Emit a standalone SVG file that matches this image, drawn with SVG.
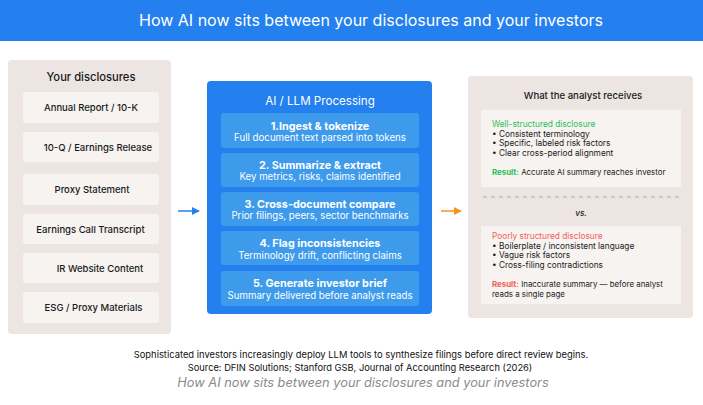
<svg xmlns="http://www.w3.org/2000/svg" width="703" height="405" viewBox="0 0 703 405">
<defs>
<style>
text{font-family:Inter,"Liberation Sans",sans-serif;}
.panel{fill:#ECE5E1;}
.doc{fill:#F6F3F0;}
.doctxt{font-size:9.5px;font-weight:500;fill:#1a1a1a;text-anchor:middle;}
.step{fill:#3E9BEC;}
.stt{font-size:10.8px;font-weight:700;fill:#fff;text-anchor:middle;}
.sts{font-size:9.7px;fill:#fff;text-anchor:middle;}
.inner{fill:#F6F3F0;}
.rt{font-size:8.3px;fill:#222;}
.res{font-size:7.9px;fill:#222;}
</style>
<marker id="ab" viewBox="0 0 10 10" refX="9" refY="5" markerWidth="8" markerHeight="8" orient="auto" markerUnits="userSpaceOnUse"><path d="M0,0L10,5L0,10z" fill="#2380EE"/></marker>
<marker id="ao" viewBox="0 0 10 10" refX="9" refY="5" markerWidth="8" markerHeight="8" orient="auto" markerUnits="userSpaceOnUse"><path d="M0,0L10,5L0,10z" fill="#F7901E"/></marker>
</defs>
<rect width="703" height="405" fill="#fff"/>
<g id="header">
<rect x="0" y="0" width="703" height="41" fill="#2380EE"/>
<text x="371" y="26" font-size="16" fill="#fff" text-anchor="middle">How AI now sits between your disclosures and your investors</text>
</g>
<g id="disclosures">
<rect class="panel" x="8" y="60" width="163" height="274" rx="4"/>
<text x="91" y="81" font-size="11.2" font-weight="500" fill="#1a1a1a" text-anchor="middle">Your disclosures</text>
<rect class="doc" x="23" y="92" width="136" height="31" rx="3"/>
<text class="doctxt" x="91" y="111">Annual Report / 10-K</text>
<rect class="doc" x="23" y="132" width="136" height="30" rx="3"/>
<text class="doctxt" x="98" y="150.5">10-Q / Earnings Release</text>
<rect class="doc" x="23" y="174" width="136" height="31" rx="3"/>
<text class="doctxt" x="92" y="192.5">Proxy Statement</text>
<rect class="doc" x="23" y="214" width="136" height="30" rx="3"/>
<text class="doctxt" x="90.5" y="232.5">Earnings Call Transcript</text>
<rect class="doc" x="23" y="253" width="136" height="30" rx="3"/>
<text class="doctxt" x="100" y="271.5">IR Website Content</text>
<rect class="doc" x="23" y="292" width="136" height="31" rx="3"/>
<text class="doctxt" x="93.5" y="311">ESG / Proxy Materials</text>
</g>
<g id="processing">
<rect x="207" y="81" width="225" height="233" rx="4" fill="#2380EE"/>
<text x="320" y="104.5" font-size="11.6" fill="#fff" text-anchor="middle">AI / LLM Processing</text>
<rect class="step" x="221" y="113" width="198" height="35" rx="3"/>
<text class="stt" x="320" y="129.5">1.Ingest &amp; tokenize</text>
<text class="sts" x="320" y="141">Full document text parsed into tokens</text>
<rect class="step" x="221" y="153" width="198" height="34" rx="3"/>
<text class="stt" x="320" y="168.5">2. Summarize &amp; extract</text>
<text class="sts" x="320" y="180">Key metrics, risks, claims identified</text>
<rect class="step" x="221" y="192" width="198" height="34" rx="3"/>
<text class="stt" x="320" y="207.5">3. Cross-document compare</text>
<text class="sts" x="320" y="219">Prior filings, peers, sector benchmarks</text>
<rect class="step" x="221" y="231" width="198" height="34" rx="3"/>
<text class="stt" x="320" y="247">4. Flag inconsistencies</text>
<text class="sts" x="320" y="258.5">Terminology drift, conflicting claims</text>
<rect class="step" x="221" y="271" width="198" height="35" rx="3"/>
<text class="stt" x="320" y="287">5. Generate investor brief</text>
<text class="sts" x="320" y="298.5">Summary delivered before analyst reads</text>
</g>
<g id="analyst">
<rect class="panel" x="468" y="76" width="225" height="242" rx="4"/>
<text x="583" y="98.5" font-size="9.6" font-weight="500" fill="#1a1a1a" text-anchor="middle">What the analyst receives</text>
<rect class="inner" x="481" y="110" width="200" height="77"/>
<text x="492" y="127" font-size="8.3" fill="#2DBE5C">Well-structured disclosure</text>
<text class="rt" x="492" y="136.5">•  Consistent terminology</text>
<text class="rt" x="492" y="146">•  Specific, labeled risk factors</text>
<text class="rt" x="492" y="155.5">•  Clear cross-period alignment</text>
<text class="res" x="492" y="175"><tspan font-weight="700" fill="#2DBE5C">Result:</tspan> Accurate AI summary reaches investor</text>
<line x1="483" y1="197" x2="680" y2="197" stroke="#AAA" stroke-width="1" stroke-dasharray="4,4"/>
<text x="581" y="216" font-size="8.3" font-weight="500" font-style="italic" fill="#222" text-anchor="middle">vs.</text>
<rect class="inner" x="481" y="226" width="200" height="78"/>
<text x="492" y="239" font-size="8.3" fill="#F0605A">Poorly structured disclosure</text>
<text class="rt" x="492" y="248.5">•  Boilerplate / inconsistent language</text>
<text class="rt" x="492" y="258">•  Vague risk factors</text>
<text class="rt" x="492" y="267.5">•  Cross-filing contradictions</text>
<text class="res" x="492" y="287"><tspan font-weight="700" fill="#F0605A">Result:</tspan> Inaccurate summary — before analyst</text>
<text class="res" x="492" y="296.5">reads a single page</text>
</g>
<g id="connectors">
<line x1="178" y1="211" x2="199" y2="211" stroke="#2380EE" stroke-width="1.5" marker-end="url(#ab)"/>
<line x1="441" y1="211" x2="461" y2="211" stroke="#F7901E" stroke-width="1.5" marker-end="url(#ao)"/>
</g>
<g id="footer">
<text x="361" y="357.5" font-size="9.4" fill="#111" text-anchor="middle">Sophisticated investors increasingly deploy LLM tools to synthesize filings before direct review begins.</text>
<text x="360" y="370.5" font-size="9.3" fill="#111" text-anchor="middle">Source: DFIN Solutions; Stanford GSB, Journal of Accounting Research (2026)</text>
<text x="363" y="387" font-size="12.8" font-style="italic" fill="#8A8A8A" text-anchor="middle">How AI now sits between your disclosures and your investors</text>
</g>
</svg>
